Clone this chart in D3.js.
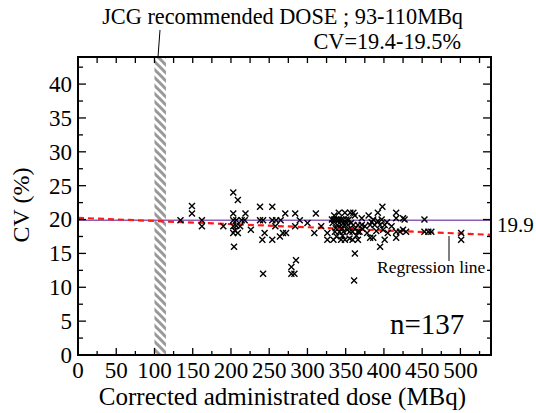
<!DOCTYPE html>
<html>
<head>
<meta charset="utf-8">
<script src="https://cdn.jsdelivr.net/npm/d3@7"></script>
<style>
  body { margin: 0; background: #fff; }
</style>
</head>
<body>
<svg class="chart"></svg>
<script>
// administered dose (MBq) and CV (%) of each patient
var dose = [134, 149, 149, 162, 162, 190, 203, 209, 203, 219,
            203, 207, 218, 203, 207, 212, 205, 209, 203, 204,
            238, 254, 238, 242, 254, 259, 265, 271, 258, 244,
            241, 254, 268, 272, 284, 284, 242, 279, 285, 279,
            283, 311, 309, 326, 326, 214, 341, 349, 356, 360,
            332, 335, 338, 341, 344, 347, 351, 354, 339, 344,
            349, 353, 360, 366, 336, 342, 347, 355, 359, 366,
            334, 344, 349, 359, 366, 371, 371, 386, 397, 398,
            382, 388, 395, 401, 382, 386, 395, 401, 362, 361,
            416, 416, 425, 416, 421, 429, 416, 425, 453, 453,
            458, 462, 501, 501, 427, 333, 337, 340, 345, 350,
            352, 357, 362, 364, 368, 372, 375, 378, 384, 390,
            392, 399, 404, 346, 338, 355, 362, 335, 380, 392,
            405, 410, 290, 300, 226, 264, 318];
var cv = [19.9, 22.0, 20.9, 19.9, 19.0, 19.0, 24.0, 22.9, 20.9, 20.9,
          19.9, 19.9, 19.9, 19.0, 19.1, 19.0, 18.4, 18.0, 18.0, 16.0,
          21.9, 21.9, 19.9, 19.9, 19.9, 19.9, 19.9, 20.9, 19.0, 18.0,
          17.0, 17.0, 18.0, 18.0, 20.9, 19.0, 12.0, 13.0, 14.0, 12.0,
          12.0, 20.9, 18.0, 18.0, 17.0, 19.9, 21.0, 21.0, 21.0, 21.0,
          20.0, 20.0, 20.0, 20.0, 20.0, 20.0, 20.0, 20.0, 19.2, 19.2,
          19.2, 19.2, 19.2, 19.2, 18.2, 18.2, 18.2, 18.2, 18.2, 18.2,
          17.0, 17.0, 17.0, 17.0, 17.0, 20.2, 19.2, 20.0, 20.0, 21.9,
          19.2, 19.2, 19.2, 19.2, 17.3, 17.3, 16.0, 17.0, 15.0, 11.0,
          21.0, 20.2, 20.2, 18.2, 18.2, 18.2, 17.3, 18.5, 20.0, 18.2,
          18.2, 18.2, 18.0, 17.0, 20.0, 19.5, 18.7, 19.8, 18.7, 19.6,
          18.5, 19.5, 18.6, 17.6, 18.2, 18.6, 19.0, 18.0, 19.6, 18.3,
          19.8, 18.5, 19.6, 17.6, 17.5, 17.2, 20.6, 20.6, 20.6, 21.0,
          18.0, 19.0, 19.9, 19.5, 18.5, 17.5, 19.0];

var meanCV = 19.9;
var regDose = [0, 540];
var regCV = [20.25, 17.75];
var jcgBand = [100, 115];   // hatched band as drawn in the figure

var xTicks = d3.range(0, 501, 50);
var yTicks = d3.range(0, 41, 5);

function show() {
    'use strict';

    var margin = { top: 57, right: 45, bottom: 58, left: 78 },
        width = 536 - margin.left - margin.right,
        height = 413 - margin.top - margin.bottom;

    var svg = d3.select(".chart")
        .attr("width", 536)
        .attr("height", 413)
        .attr("font-family", "'Liberation Serif', 'Times New Roman', 'DejaVu Serif', serif");

    var defs = svg.append("defs");
    var pat = defs.append("pattern")
        .attr("id", "hatch")
        .attr("patternUnits", "userSpaceOnUse")
        .attr("width", 8)
        .attr("height", 8);
    pat.append("rect").attr("width", 8).attr("height", 8).attr("fill", "#fff");
    pat.append("path")
        .attr("d", "M-1,-1 L9,9 M-1,7 L1,9 M7,-1 L9,1")
        .attr("stroke", "#999")
        .attr("stroke-width", 3);

    var chart = svg.append("g")
        .attr("transform", "translate(" + margin.left + "," + margin.top + ")");

    var x = d3.scaleLinear().domain([0, 540]).range([0, width]);
    var y = d3.scaleLinear().domain([0, 44]).range([height, 0]);

    // JCG recommended band
    chart.append("rect")
        .attr("x", x(jcgBand[0]))
        .attr("width", x(jcgBand[1]) - x(jcgBand[0]))
        .attr("y", 0)
        .attr("height", height)
        .attr("fill", "url(#hatch)");

    // mean CV
    chart.append("line")
        .attr("x1", 0).attr("x2", width)
        .attr("y1", y(meanCV)).attr("y2", y(meanCV))
        .attr("stroke", "#8e5fb4")
        .attr("stroke-width", 1.6);

    // regression line
    chart.append("line")
        .attr("x1", x(regDose[0])).attr("x2", x(regDose[1]))
        .attr("y1", y(regCV[0])).attr("y2", y(regCV[1]))
        .attr("stroke", "#ff1a1a")
        .attr("stroke-width", 2.2)
        .attr("stroke-dasharray", "6,4");

    // points as crosses
    var s = 3;
    chart.selectAll(".pt").data(d3.range(dose.length))
        .enter().append("path")
        .attr("class", "pt")
        .attr("d", function(i) {
            var cx = x(dose[i]), cy = y(cv[i]);
            return "M" + (cx - s) + "," + (cy - s) + "L" + (cx + s) + "," + (cy + s) +
                   "M" + (cx - s) + "," + (cy + s) + "L" + (cx + s) + "," + (cy - s);
        })
        .attr("stroke", "#000")
        .attr("stroke-width", 1.4)
        .attr("fill", "none");

    // ticks, all pointing inward
    var xMinor = d3.range(0, 540, 25);
    var yMinor = d3.range(0, 44, 2.5);
    function isMajor(v, step) { return Math.abs(v / step - Math.round(v / step)) < 1e-6; }

    var tk = chart.append("g").attr("stroke", "#000").attr("stroke-width", 1.3);
    xMinor.forEach(function(v) {
        var len = isMajor(v, 50) ? 7 : 4;
        tk.append("line").attr("x1", x(v)).attr("x2", x(v))
            .attr("y1", height).attr("y2", height - len);
        tk.append("line").attr("x1", x(v)).attr("x2", x(v))
            .attr("y1", 0).attr("y2", 6);
    });
    yMinor.forEach(function(v) {
        var len = isMajor(v, 5) ? 8 : 5;
        tk.append("line").attr("y1", y(v)).attr("y2", y(v))
            .attr("x1", 0).attr("x2", len);
        tk.append("line").attr("y1", y(v)).attr("y2", y(v))
            .attr("x1", width).attr("x2", width - (isMajor(v, 5) ? 8 : 4));
    });

    // frame
    chart.append("rect")
        .attr("width", width).attr("height", height)
        .attr("fill", "none")
        .attr("stroke", "#000")
        .attr("stroke-width", 2);

    // tick labels
    chart.selectAll(".xl").data(xTicks).enter().append("text")
        .attr("x", function(d) { return x(d); })
        .attr("y", height + 23)
        .attr("text-anchor", "middle")
        .style("font-size", "23px")
        .text(function(d) { return d; });

    chart.selectAll(".yl").data(yTicks).enter().append("text")
        .attr("x", -6)
        .attr("y", function(d) { return y(d); })
        .attr("dy", "0.34em")
        .attr("text-anchor", "end")
        .style("font-size", "23px")
        .text(function(d) { return d; });

    // axis titles
    svg.append("text")
        .attr("x", margin.left + width / 2 - 2)
        .attr("y", 405)
        .attr("text-anchor", "middle")
        .style("font-size", "25px")
        .text("Corrected administrated dose (MBq)");

    svg.append("text")
        .attr("transform", "translate(29," + (margin.top + height / 2 - 1) + ") rotate(-90)")
        .attr("text-anchor", "middle")
        .style("font-size", "24px")
        .text("CV (%)");

    // annotations
    svg.append("text")
        .attr("x", 463).attr("y", 23.5)
        .attr("text-anchor", "end")
        .style("font-size", "22.3px")
        .text("JCG recommended  DOSE ; 93-110MBq");
    svg.append("text")
        .attr("x", 461).attr("y", 48.5)
        .attr("text-anchor", "end")
        .style("font-size", "22.3px")
        .text("CV=19.4-19.5%");
    svg.append("line")
        .attr("x1", 160).attr("y1", 30)
        .attr("x2", 158).attr("y2", margin.top)
        .attr("stroke", "#000").attr("stroke-width", 1);

    svg.append("text")
        .attr("x", margin.left + width + 6)
        .attr("y", margin.top + y(meanCV) + 12)
        .style("font-size", "21px")
        .text("19.9");

    svg.append("line")
        .attr("x1", 449).attr("y1", 236)
        .attr("x2", 449).attr("y2", 261)
        .attr("stroke", "#000").attr("stroke-width", 1);
    svg.append("text")
        .attr("x", 377).attr("y", 272.5)
        .style("font-size", "17.5px")
        .text("Regression line");

    svg.append("text")
        .attr("x", 390).attr("y", 334)
        .style("font-size", "29px")
        .text("n=" + dose.length);
}
show();
</script>
</body>
</html>
